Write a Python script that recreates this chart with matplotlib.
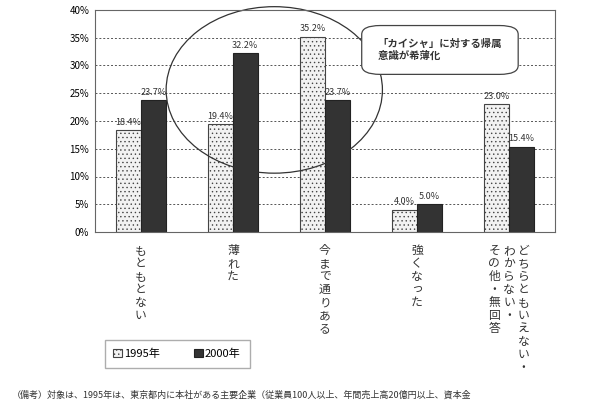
import matplotlib
matplotlib.use("Agg")
import matplotlib.pyplot as plt
from matplotlib.patches import Ellipse, FancyBboxPatch
import numpy as np

plt.rcParams['font.family'] = ['Noto Sans CJK JP', 'DejaVu Sans']
plt.rcParams['hatch.color'] = '#999999'
plt.rcParams['hatch.linewidth'] = 0.5

categories = [["もともとない"], ["薄れた"], ["今まで通りある"], ["強くなった"],
              ["どちらともいえない・", "わからない・", "その他・無回答"]]
v1995 = [18.4, 19.4, 35.2, 4.0, 23.0]
v2000 = [23.7, 32.2, 23.7, 5.0, 15.4]
yticks = [0, 5, 10, 15, 20, 25, 30, 35, 40]

fig = plt.figure(figsize=(6, 4), dpi=100)
ax = fig.add_axes([0.158, 0.42, 0.767, 0.555])
x = np.arange(len(v1995))
w = 0.27
b1 = ax.bar(x - w/2, v1995, w, facecolor='#f2f2f2', edgecolor='#444444', hatch='....', linewidth=0.8, label='1995年')
b2 = ax.bar(x + w/2, v2000, w, facecolor='#333333', edgecolor='#222222', linewidth=0.8, label='2000年')
for xi, v in zip(x - w/2, v1995):
    ax.text(xi, v + 0.6, f"{v:.1f}%", ha='center', va='bottom', fontsize=6.5, color='#333333')
for xi, v in zip(x + w/2, v2000):
    ax.text(xi, v + 0.6, f"{v:.1f}%", ha='center', va='bottom', fontsize=6.5, color='#333333')

ax.set_xlim(-0.5, 4.5)
ax.set_ylim(0, 40)
ax.set_yticks(yticks)
ax.set_yticklabels([f"{t}%" for t in yticks], fontsize=7)
ax.set_xticks([])
ax.yaxis.grid(True, linestyle=(0, (2, 2)), color='#555555', linewidth=0.7)
ax.set_axisbelow(True)
for s in ax.spines.values():
    s.set_color('#666666')
ax.tick_params(axis='y', length=0, pad=4)

for xi, lines in zip(x, categories):
    n = len(lines)
    for j, line in enumerate(lines):
        offset = (n - 1) / 2 - j
        ax.text(xi + offset * 0.16, -2.2, "\n".join(line), ha='center', va='top',
                fontsize=8.5, linespacing=1.0, color='#333333', transform=ax.transData)

ax.add_patch(Ellipse((0.39, 0.64), 0.47, 0.75, transform=ax.transAxes,
                     fill=False, edgecolor='#333333', linewidth=0.9, clip_on=False))
box = FancyBboxPatch((0.59, 0.72), 0.32, 0.2, boxstyle="round,pad=0.01,rounding_size=0.04",
                     transform=ax.transAxes, facecolor='white', edgecolor='#444444', linewidth=0.9)
ax.add_patch(box)
ax.text(0.75, 0.82, "「カイシャ」に対する帰属\n意識が希薄化　　　　　　", transform=ax.transAxes,
        ha='center', va='center', multialignment='left', fontsize=7.5, fontweight='bold',
        color='#333333', linespacing=1.2)

fig.legend(handles=[b1, b2], labels=['1995年', '2000年'], loc='upper left',
           bbox_to_anchor=(0.165, 0.165), ncol=2, fontsize=8, frameon=True,
           fancybox=False, edgecolor='#999999', handlelength=0.8, handleheight=0.8,
           columnspacing=3.0, handletextpad=0.2, borderpad=0.8)

fig.text(0.02, 0.0, "（備考）対象は、1995年は、東京都内に本社がある主要企業（従業員100人以上、年間売上高20億円以上、資本金",
         fontsize=6.5, color='#333333', va='bottom')

fig.savefig("out.png", dpi=100, facecolor='white')
